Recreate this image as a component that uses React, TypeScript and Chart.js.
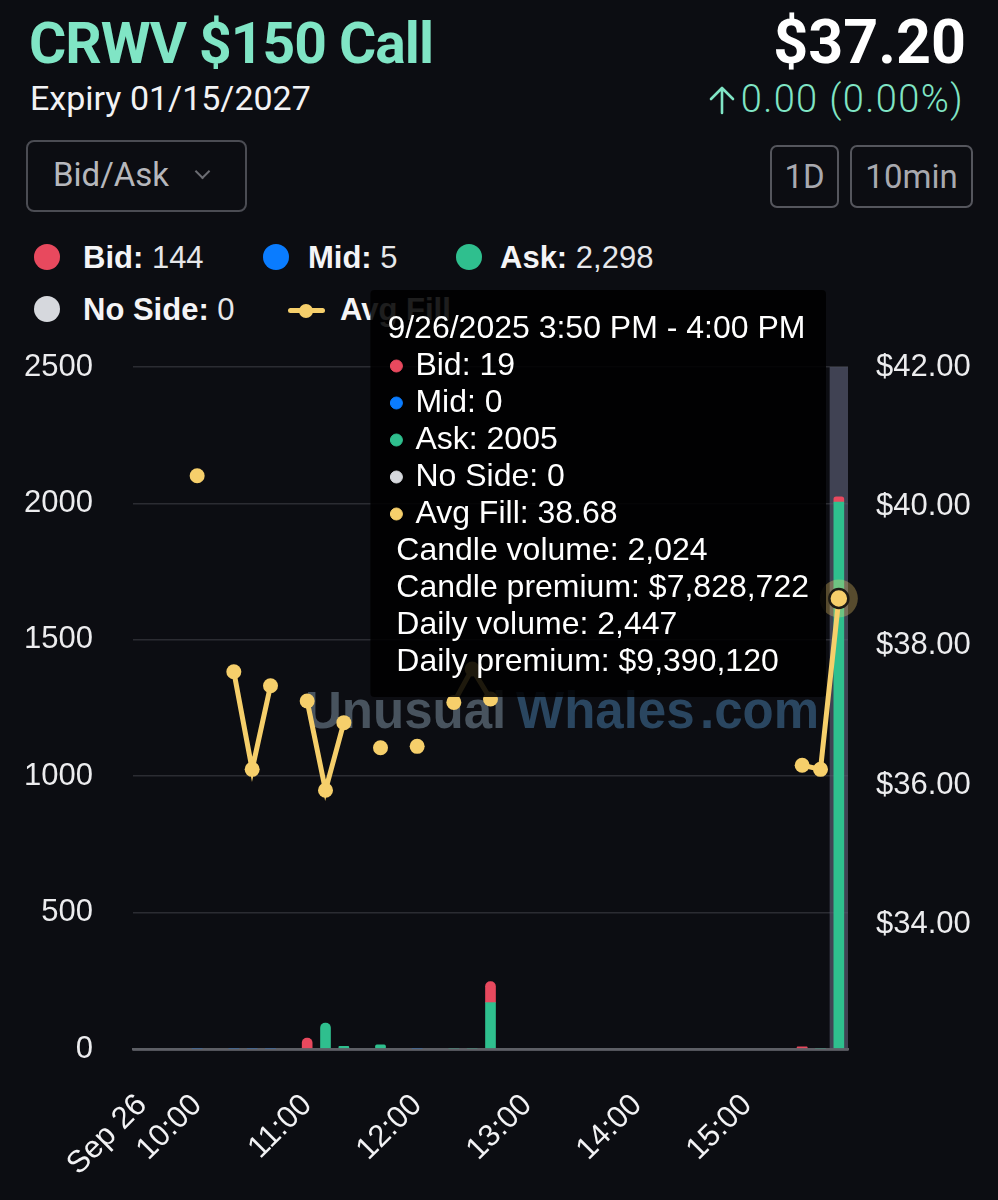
import React, { useEffect, useRef } from 'react';
import { Chart, registerables, Tooltip } from 'chart.js';

Chart.register(...registerables);

// ---------- data ----------
const timeLabels = [
  '09:30', '09:40', '09:50', '10:00', '10:10', '10:20', '10:30', '10:40', '10:50',
  '11:00', '11:10', '11:20', '11:30', '11:40', '11:50',
  '12:00', '12:10', '12:20', '12:30', '12:40', '12:50',
  '13:00', '13:10', '13:20', '13:30', '13:40', '13:50',
  '14:00', '14:10', '14:20', '14:30', '14:40', '14:50',
  '15:00', '15:10', '15:20', '15:30', '15:40', '15:50',
];
const firstTickLabel = 'Sep 26';

const bidValues = [
  null, null, null, null, null, null, null, null, null, 40,
  null, null, null, null, null, null, null, null, null, 77,
  null, null, null, null, null, null, null, null, null, null,
  null, null, null, null, null, null, 8, null, 19,
];
const midValues = [
  null, null, null, 1, null, 1, 1, 1, null, null,
  null, null, null, null, null, 1, null, null, null, null,
  null, null, null, null, null, null, null, null, null, null,
  null, null, null, null, null, null, null, null, null,
];
const askValues = [
  null, null, null, null, null, null, null, null, null, null,
  95, 10, null, 15, null, null, null, 1, 1, 170,
  null, null, null, null, null, null, null, null, null, null,
  null, null, null, null, null, null, null, 1, 2005,
];
const noSideValues = [
  null, null, null, null, null, null, null, null, null, null,
  null, null, null, null, null, null, null, null, null, null,
  null, null, null, null, null, null, null, null, null, null,
  null, null, null, null, null, null, null, null, null,
];
const avgFillValues = [
  null, null, null, 40.44, null, 37.63, 36.23, 37.43, null, 37.21,
  35.93, 36.9, null, 36.54, null, 36.56, null, 37.19, 37.67, 37.24,
  null, null, null, null, null, null, null, null, null, null,
  null, null, null, null, null, null, 36.29, 36.23, 38.68,
];

const leftTicks = [0, 500, 1000, 1500, 2000, 2500];
const rightTicks = [34, 36, 38, 40, 42];
const rightMin = 32.22;
const rightMax = 42;

const hoverIndex = 38;
const tooltipTitle = '9/26/2025 3:50 PM - 4:00 PM';
const tooltipExtra = [
  ' Candle volume: 2,024',
  ' Candle premium: $7,828,722',
  ' Daily volume: 2,447',
  ' Daily premium: $9,390,120',
];

const legendTotals = { bid: '144', mid: '5', ask: '2,298', noSide: '0' };

const COLORS = {
  bid: '#e8495e',
  mid: '#0a7cff',
  ask: '#2fbf8e',
  noSide: '#d6d8dd',
  avg: '#f6cf6b',
};

const BG = '#0c0d12';
const SANS = '"Liberation Sans", Arial, Helvetica, sans-serif';
const ROBOTO = 'Roboto, "Liberation Sans", Arial, sans-serif';

(Tooltip.positioners as any).fixedPanel = function (this: any) {
  const area = this.chart.chartArea;
  return { x: area.right - 26, y: area.top - 77, xAlign: 'right', yAlign: 'top' };
};

const bandPlugin = {
  id: 'hoverBand',
  beforeDatasetsDraw(chart: any) {
    const x = chart.scales.x;
    const { top, bottom } = chart.chartArea;
    const w = x.getPixelForValue(1) - x.getPixelForValue(0);
    const c = x.getPixelForValue(hoverIndex);
    const ctx = chart.ctx;
    ctx.save();
    ctx.fillStyle = 'rgba(84, 88, 108, 0.72)';
    ctx.fillRect(c - w / 2, top, w, bottom - top);
    // watermark
    ctx.font = `bold 51px ${SANS}`;
    ctx.textBaseline = 'alphabetic';
    ctx.textAlign = 'left';
    const baseY = top + 361;
    const left = chart.chartArea.left;
    ctx.fillStyle = '#48535e';
    ctx.fillText('Unusual', left + 172, baseY);
    ctx.fillStyle = '#2a4660';
    ctx.fillText('Whales', left + 383, baseY);
    ctx.fillText('.com', left + 567, baseY);
    ctx.restore();
  },
  beforeDatasetDraw(chart: any, args: any) {
    if (args.index !== 4) return;
    const el = chart.getDatasetMeta(4).data[hoverIndex];
    if (!el) return;
    const ctx = chart.ctx;
    ctx.save();
    ctx.beginPath();
    ctx.arc(el.x, el.y, 19, 0, Math.PI * 2);
    ctx.fillStyle = 'rgba(246, 207, 107, 0.32)';
    ctx.fill();
    ctx.restore();
  },
  afterDatasetsDraw(chart: any) {
    // redraw the base line over the bar feet
    const { left, right, bottom } = chart.chartArea;
    const ctx = chart.ctx;
    ctx.save();
    ctx.strokeStyle = '#5e5f66';
    ctx.lineWidth = 2.5;
    ctx.beginPath();
    ctx.moveTo(left, bottom + 0.5);
    ctx.lineTo(right, bottom + 0.5);
    ctx.stroke();
    ctx.restore();
  },
};

function LegendDot({ cx, cy, color }: { cx: number; cy: number; color: string }) {
  return (
    <div
      style={{
        position: 'absolute',
        left: cx - 13,
        top: cy - 13,
        width: 26,
        height: 26,
        borderRadius: '50%',
        background: color,
      }}
    />
  );
}

function LegendText({ left, top, name, value }: { left: number; top: number; name: string; value: string }) {
  return (
    <div
      style={{
        position: 'absolute',
        left,
        top,
        fontFamily: SANS,
        fontSize: 31,
        lineHeight: '31px',
        whiteSpace: 'nowrap',
        color: '#e6e7ea',
      }}
    >
      <span style={{ fontWeight: 'bold', color: '#f4f4f6' }}>{name}</span> {value}
    </div>
  );
}

export default function App() {
  const canvasRef = useRef<HTMLCanvasElement | null>(null);

  useEffect(() => {
    document.body.style.margin = '0';
    document.body.style.background = BG;
    const canvas = canvasRef.current;
    if (!canvas) return;

    Chart.defaults.font.family = SANS;
    Chart.defaults.color = '#e8e8ea';

    const barCommon = {
      type: 'bar' as const,
      yAxisID: 'y',
      barThickness: 10,
      borderRadius: 5,
      borderSkipped: 'start' as const,
      order: 1,
    };

    const chart = new Chart(canvas, {
      data: {
        labels: timeLabels,
        datasets: [
          { ...barCommon, label: 'Ask', data: askValues, backgroundColor: COLORS.ask, hoverBackgroundColor: COLORS.ask },
          { ...barCommon, label: 'Mid', data: midValues, backgroundColor: COLORS.mid, hoverBackgroundColor: COLORS.mid },
          { ...barCommon, label: 'No Side', data: noSideValues, backgroundColor: COLORS.noSide, hoverBackgroundColor: COLORS.noSide },
          { ...barCommon, label: 'Bid', data: bidValues, backgroundColor: COLORS.bid, hoverBackgroundColor: COLORS.bid },
          {
            type: 'line' as const,
            label: 'Avg Fill',
            yAxisID: 'y1',
            data: avgFillValues,
            borderColor: COLORS.avg,
            backgroundColor: COLORS.avg,
            borderWidth: 5,
            spanGaps: false,
            tension: 0,
            order: 0,
            pointBackgroundColor: COLORS.avg,
            pointHoverBackgroundColor: COLORS.avg,
            pointRadius: (c: any) => (c.dataIndex === hoverIndex ? 9.5 : 7.5),
            pointHoverRadius: (c: any) => (c.dataIndex === hoverIndex ? 9.5 : 7.5),
            pointBorderWidth: (c: any) => (c.dataIndex === hoverIndex ? 2.5 : 0),
            pointHoverBorderWidth: (c: any) => (c.dataIndex === hoverIndex ? 2.5 : 0),
            pointBorderColor: '#1c1a14',
            pointHoverBorderColor: '#1c1a14',
          },
        ],
      } as any,
      options: {
        responsive: false,
        maintainAspectRatio: false,
        animation: false,
        devicePixelRatio: 1,
        events: [],
        layout: { padding: { top: 87, left: 0, right: 0, bottom: 0 } },
        plugins: {
          legend: { display: false },
          title: { display: false },
          tooltip: {
            enabled: true,
            position: 'fixedPanel' as any,
            xAlign: 'right',
            yAlign: 'top',
            backgroundColor: 'rgba(0,0,0,0.88)',
            titleColor: '#ffffff',
            bodyColor: '#ffffff',
            titleFont: { family: SANS, size: 32, weight: 'normal', lineHeight: 36 / 32 },
            bodyFont: { family: SANS, size: 32, weight: 'normal', lineHeight: 36 / 32 },
            titleMarginBottom: 1,
            bodySpacing: 1,
            padding: { left: 17, right: 17, top: 21, bottom: 17 },
            caretSize: 0,
            caretPadding: 0,
            cornerRadius: 4,
            displayColors: true,
            usePointStyle: true,
            boxWidth: 18,
            boxHeight: 12,
            boxPadding: 8,
            multiKeyBackground: 'rgba(0,0,0,0)',
            callbacks: {
              title: () => tooltipTitle,
              label: (c: any) => `${c.dataset.label}: ${c.raw == null ? 0 : c.raw}`,
              labelColor: (c: any) => ({
                borderColor: c.dataset.backgroundColor,
                backgroundColor: c.dataset.backgroundColor,
                borderWidth: 0,
              }),
              labelPointStyle: () => ({ pointStyle: 'circle', rotation: 0 }),
              afterBody: () => tooltipExtra,
            },
          },
        },
        scales: {
          x: {
            type: 'category',
            stacked: true,
            offset: true,
            grid: { display: false, drawTicks: false },
            border: { display: true, color: '#5e5f66', width: 2.5 },
            ticks: {
              autoSkip: false,
              maxRotation: 45,
              minRotation: 45,
              padding: 38,
              color: '#f2f2f4',
              font: { family: SANS, size: 31 },
              callback: (_v: any, i: number) => {
                if (i === 0) return firstTickLabel;
                const lab = timeLabels[i];
                return lab.endsWith(':00') ? lab : '';
              },
            },
            afterFit: (s: any) => {
              s.height = 151;
            },
          },
          y: {
            type: 'linear',
            position: 'left',
            stacked: true,
            min: 0,
            max: 2500,
            afterBuildTicks: (s: any) => {
              s.ticks = leftTicks.map((v) => ({ value: v }));
            },
            grid: {
              color: (c: any) => (c.tick && c.tick.value === 0 ? 'rgba(0,0,0,0)' : '#2b2c32'),
              lineWidth: 1.5,
              drawTicks: false,
            },
            border: { display: false },
            ticks: {
              padding: 40,
              color: '#ececee',
              font: { family: SANS, size: 31 },
              callback: (v: any) => String(v),
            },
            afterFit: (s: any) => {
              s.width = 133;
            },
          },
          y1: {
            type: 'linear',
            position: 'right',
            stacked: false,
            min: rightMin,
            max: rightMax,
            afterBuildTicks: (s: any) => {
              s.ticks = rightTicks.map((v) => ({ value: v }));
            },
            grid: { display: false, drawTicks: false },
            border: { display: false },
            ticks: {
              padding: 28,
              color: '#ececee',
              font: { family: SANS, size: 31 },
              callback: (v: any) => '$' + Number(v).toFixed(2),
            },
            afterFit: (s: any) => {
              s.width = 150;
            },
          },
        },
      } as any,
      plugins: [bandPlugin],
    });

    const order = [3, 1, 0, 2, 4];
    const active = order.map((d) => ({ datasetIndex: d, index: hoverIndex }));
    const el = chart.getDatasetMeta(4).data[hoverIndex] as any;
    chart.setActiveElements(active);
    chart.tooltip?.setActiveElements(active, { x: el ? el.x : 0, y: el ? el.y : 0 });
    chart.update();

    return () => {
      chart.destroy();
    };
  }, []);

  const btn: React.CSSProperties = {
    position: 'absolute',
    top: 145,
    height: 63,
    boxSizing: 'border-box',
    border: '2px solid #55565d',
    borderRadius: 7,
    display: 'flex',
    alignItems: 'center',
    justifyContent: 'center',
    fontFamily: ROBOTO,
    fontSize: 33,
    color: '#a8a9af',
  };

  return (
    <div
      style={{
        position: 'relative',
        width: 998,
        height: 1200,
        background: BG,
        overflow: 'hidden',
      }}
    >
      {/* header */}
      <div
        style={{
          position: 'absolute',
          left: 29,
          top: 15,
          fontFamily: ROBOTO,
          fontWeight: 700,
          fontSize: 57,
          lineHeight: '57px',
          letterSpacing: '-1px',
          color: '#80e5c5',
          whiteSpace: 'nowrap',
        }}
      >
        CRWV $150 Call
      </div>
      <div
        style={{
          position: 'absolute',
          left: 30,
          top: 81,
          fontFamily: ROBOTO,
          fontSize: 34,
          lineHeight: '34px',
          color: '#f2f2f4',
          whiteSpace: 'nowrap',
        }}
      >
        Expiry 01/15/2027
      </div>
      <div
        style={{
          position: 'absolute',
          right: 32,
          top: 12,
          fontFamily: ROBOTO,
          fontWeight: 700,
          fontSize: 61,
          lineHeight: '61px',
          color: '#ffffff',
          whiteSpace: 'nowrap',
        }}
      >
        $37.20
      </div>
      <svg
        width={28}
        height={30}
        viewBox="0 0 28 30"
        style={{ position: 'absolute', left: 708, top: 85 }}
      >
        <path
          d="M14 28 L14 3 M3 14 L14 3 L25 14"
          fill="none"
          stroke="#80e5c5"
          strokeWidth={2.6}
          strokeLinecap="round"
          strokeLinejoin="round"
        />
      </svg>
      <div
        style={{
          position: 'absolute',
          right: 34,
          top: 80,
          fontFamily: ROBOTO,
          fontWeight: 300,
          fontSize: 38,
          lineHeight: '38px',
          letterSpacing: '1.4px',
          color: '#80e5c5',
          whiteSpace: 'nowrap',
        }}
      >
        0.00 (0.00%)
      </div>

      {/* dropdown */}
      <div
        style={{
          position: 'absolute',
          left: 26,
          top: 140,
          width: 221,
          height: 72,
          boxSizing: 'border-box',
          border: '2px solid #4b4c53',
          borderRadius: 8,
        }}
      >
        <div
          style={{
            position: 'absolute',
            left: 25,
            top: 16,
            fontFamily: ROBOTO,
            fontSize: 33,
            lineHeight: '33px',
            color: '#b6b7bc',
          }}
        >
          Bid/Ask
        </div>
        <div
          style={{
            position: 'absolute',
            left: 169,
            top: 24,
            width: 9,
            height: 9,
            borderRight: '2px solid #6b6c72',
            borderBottom: '2px solid #6b6c72',
            transform: 'rotate(45deg)',
          }}
        />
      </div>
      <div style={{ ...btn, left: 770, width: 69 }}>1D</div>
      <div style={{ ...btn, left: 850, width: 123 }}>10min</div>

      {/* legend */}
      <LegendDot cx={47} cy={257} color={COLORS.bid} />
      <LegendText left={83} top={242} name="Bid:" value={legendTotals.bid} />
      <LegendDot cx={276} cy={257} color={COLORS.mid} />
      <LegendText left={308} top={242} name="Mid:" value={legendTotals.mid} />
      <LegendDot cx={469} cy={257} color={COLORS.ask} />
      <LegendText left={500} top={242} name="Ask:" value={legendTotals.ask} />
      <LegendDot cx={47} cy={309} color={COLORS.noSide} />
      <LegendText left={83} top={294} name="No Side:" value={legendTotals.noSide} />
      <div
        style={{
          position: 'absolute',
          left: 288,
          top: 308,
          width: 37,
          height: 5,
          borderRadius: 3,
          background: COLORS.avg,
        }}
      />
      <div
        style={{
          position: 'absolute',
          left: 299,
          top: 304,
          width: 14,
          height: 14,
          borderRadius: '50%',
          background: COLORS.avg,
        }}
      />
      <div
        style={{
          position: 'absolute',
          left: 340,
          top: 294,
          fontFamily: SANS,
          fontWeight: 'bold',
          fontSize: 31,
          lineHeight: '31px',
          color: '#f4f4f6',
          whiteSpace: 'nowrap',
        }}
      >
        Avg Fill
      </div>

      <canvas
        ref={canvasRef}
        width={998}
        height={920}
        style={{ position: 'absolute', left: 0, top: 280, width: 998, height: 920, zIndex: 2 }}
      />
    </div>
  );
}
